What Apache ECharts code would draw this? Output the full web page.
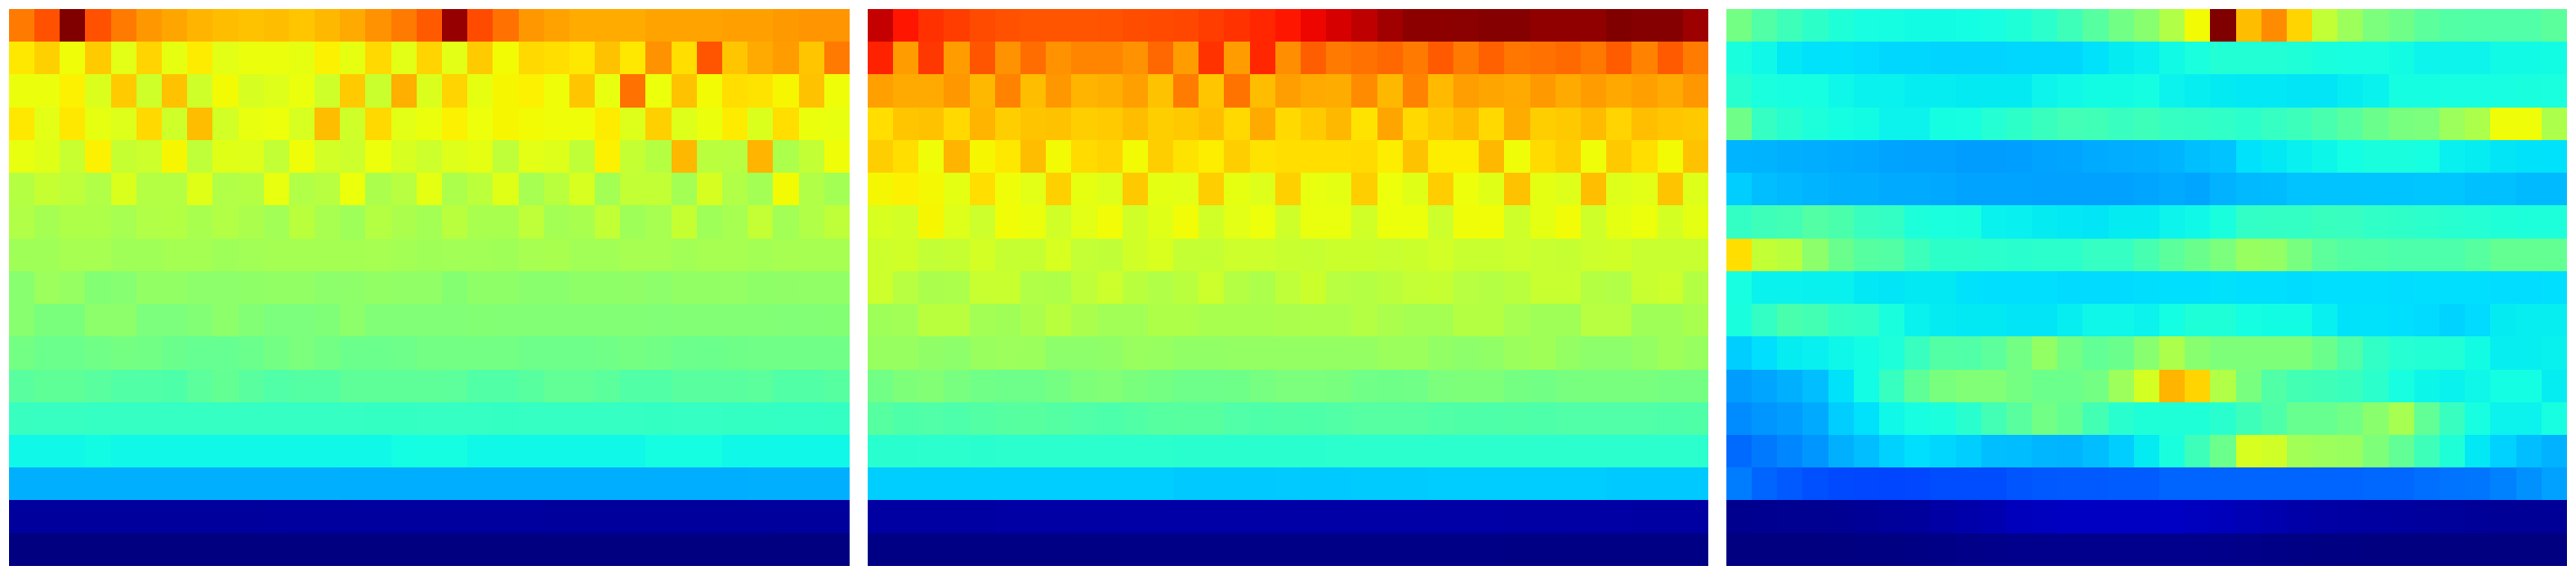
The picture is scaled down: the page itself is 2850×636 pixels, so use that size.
<!DOCTYPE html>
<html>
<head>
<meta charset="utf-8">
<style>html,body{margin:0;padding:0;background:#fff}#c{width:2850px;height:636px}</style>
<script src="https://cdn.jsdelivr.net/npm/echarts@6/dist/echarts.min.js"></script>
</head>
<body>
<div id="c"></div>
<script>
// Values are positions on the colour scale, 0..1000. One row per line, top row first.
const panelA = [
[780,825,1000,825,780,750,735,720,710,705,710,700,715,730,755,780,815,980,830,790,750,738,729,729,729,737,737,737,740,740,748,752,752],
[665,690,640,695,625,685,630,660,625,635,635,630,655,630,680,625,685,625,695,645,680,675,665,705,665,755,675,820,700,730,745,700,780],
[635,635,655,615,695,600,705,600,645,610,620,635,600,695,595,725,615,685,630,650,655,640,700,632,790,637,705,645,675,670,650,705,640],
[665,625,665,630,620,680,600,710,605,632,638,612,710,600,680,625,635,655,638,650,645,640,640,660,620,690,620,635,660,615,675,635,632],
[632,622,592,655,590,598,650,580,622,620,585,640,605,598,638,612,598,620,628,580,625,618,582,655,588,570,715,575,572,720,560,585,640],
[570,590,580,565,615,568,568,622,565,568,632,565,572,637,558,572,628,560,578,622,552,575,612,548,585,585,548,610,565,548,645,565,548],
[565,550,562,562,552,565,567,556,566,558,546,576,554,542,570,558,548,575,556,556,580,548,556,585,542,552,590,543,552,587,546,565,580],
[545,545,552,552,545,545,550,550,543,546,550,550,550,550,552,548,544,547,547,545,551,555,546,546,551,552,546,551,552,548,552,552,552],
[515,540,532,510,513,527,527,522,522,524,527,527,522,523,527,526,526,511,524,524,518,518,524,524,525,520,527,527,528,524,525,526,526],
[515,498,498,522,522,500,500,508,520,508,500,500,505,520,506,506,507,507,510,509,508,508,509,508,508,507,508,508,508,508,507,508,510],
[490,480,480,486,492,488,478,473,473,480,490,500,490,480,480,482,490,490,490,490,482,482,482,486,491,487,481,480,484,486,486,486,486],
[458,466,466,458,448,448,445,460,472,458,447,452,452,464,464,464,464,462,448,448,457,468,468,460,448,448,458,458,458,460,448,448,455],
[418,416,416,415,415,415,415,414,414,414,415,415,414,414,413,413,414,414,414,413,414,415,415,414,414,413,414,414,413,413,412,412,413],
[368,368,368,372,368,368,368,368,368,368,368,368,368,368,368,374,375,375,368,368,368,368,368,368,368,375,375,375,368,368,368,368,368],
[297,297,297,297,297,297,297,297,297,297,297,297,297,295,295,295,295,295,295,295,295,295,295,295,295,295,295,295,295,297,297,297,297],
[25,25,25,25,25,25,25,25,25,25,26,26,26,26,26,26,26,26,26,26,26,25,25,25,25,25,25,25,25,25,25,25,25],
[0,0,0,0,0,0,0,0,0,0,0,1,1,1,1,1,1,1,1,1,1,1,1,1,1,1,1,1,1,1,0,0,0]
];
const panelB = [
[940,888,858,845,830,825,820,820,820,822,828,832,835,845,857,870,886,905,925,946,972,988,989,990,995,995,985,985,985,1000,995,995,975],
[875,745,852,745,820,755,795,755,770,770,755,800,745,857,745,870,760,810,780,790,800,780,815,780,808,785,790,798,783,813,772,815,778],
[740,730,730,750,715,772,710,750,720,725,740,705,778,700,788,710,742,730,728,762,715,772,713,742,735,730,748,730,745,732,740,730,750],
[675,700,705,680,720,692,702,705,692,696,710,692,697,708,680,730,680,695,715,670,735,680,697,712,680,728,692,697,712,685,708,700,697],
[692,675,640,720,650,665,710,645,678,685,645,692,670,658,692,670,675,675,675,678,658,705,658,658,715,640,678,692,640,697,675,645,705],
[648,655,647,628,675,640,625,690,630,620,697,628,625,692,630,620,690,632,628,692,638,622,693,638,622,705,628,618,708,620,625,702,618],
[612,605,650,620,598,642,635,602,625,643,603,622,643,603,625,638,600,633,633,603,637,637,598,640,642,600,628,643,600,628,637,608,628],
[598,603,585,590,607,590,590,612,587,583,602,613,588,588,598,598,593,590,597,597,592,597,605,593,593,598,592,590,598,603,592,592,592],
[598,572,558,560,592,593,565,562,580,598,575,565,575,598,568,560,580,597,572,568,577,587,590,572,568,575,592,592,570,565,592,598,567],
[542,547,575,575,548,545,558,575,558,547,547,562,562,555,555,555,558,560,560,568,558,550,550,570,570,552,545,545,572,572,545,545,556],
[533,533,525,522,535,540,538,522,522,525,535,533,526,526,530,530,530,530,530,530,538,538,527,522,526,538,545,530,520,520,530,543,533],
[488,503,508,495,486,482,482,492,503,508,498,492,483,483,484,493,500,500,497,486,484,486,500,503,503,492,487,495,497,497,497,492,492],
[455,445,447,443,450,455,456,452,447,442,449,455,456,456,447,444,446,445,448,453,453,453,448,446,444,446,444,447,447,447,447,445,446],
[400,400,401,401,400,401,401,401,401,401,401,401,400,400,400,400,400,400,401,401,401,401,401,401,401,401,401,401,401,401,401,401,401],
[326,326,326,326,326,326,326,326,326,326,326,326,322,322,322,322,323,322,322,324,324,324,325,325,325,325,325,325,325,322,322,322,322],
[30,30,30,30,30,31,31,31,32,32,33,33,33,33,33,33,33,33,33,33,33,33,33,33,33,32,32,32,31,31,30,30,30],
[5,5,5,5,5,5,5,5,5,5,6,6,6,6,6,6,6,6,6,6,6,6,6,6,6,5,5,5,5,5,5,5,5]
];
const panelC = [
[490,448,425,405,388,378,375,372,372,374,378,388,402,425,455,488,515,565,645,1000,710,762,685,585,540,500,485,460,450,447,447,447,460],
[380,368,352,345,345,341,336,336,333,333,333,336,336,336,345,355,360,370,382,392,392,392,388,380,378,378,372,365,365,365,370,370,372],
[398,382,378,376,367,362,362,357,357,354,354,354,365,368,372,372,375,364,358,354,352,352,350,350,357,362,375,375,378,378,378,380,382],
[485,415,398,385,375,372,363,363,375,378,393,405,420,430,428,418,425,415,412,408,402,415,423,437,455,478,495,500,540,560,640,640,560],
[302,300,297,294,292,290,285,282,282,278,278,280,285,287,292,294,296,302,312,316,345,352,360,366,374,380,380,376,360,357,350,347,345],
[326,311,306,302,297,297,292,292,290,285,285,285,282,282,282,282,287,292,287,299,306,308,316,316,316,318,318,319,319,313,313,307,307],
[412,425,430,450,440,418,412,385,382,380,362,360,355,352,350,355,355,365,368,380,410,412,412,420,418,408,406,402,398,393,388,385,385],
[675,585,575,522,478,455,450,423,405,405,402,400,402,403,415,415,435,460,478,500,533,528,495,462,450,448,443,443,443,455,472,472,472],
[378,362,362,361,361,352,350,353,353,345,343,343,343,339,339,339,342,343,343,345,343,343,340,343,343,343,341,343,343,343,341,341,343],
[380,412,438,432,412,408,380,362,355,353,353,350,350,358,367,367,363,374,387,387,375,372,372,360,347,345,343,339,332,339,355,358,358],
[326,343,357,360,367,373,385,418,450,447,462,490,527,490,468,478,515,560,515,502,502,502,502,478,447,410,396,392,390,372,358,358,361],
[278,287,297,311,346,373,417,465,497,506,506,492,480,480,490,540,608,720,685,565,495,448,432,426,420,402,378,366,362,367,374,374,357],
[262,272,277,292,326,345,368,378,383,400,430,458,487,472,432,400,388,388,388,400,425,445,475,475,487,517,552,468,418,378,364,364,378],
[228,243,257,272,297,311,331,343,336,326,311,310,304,302,311,326,355,380,425,480,612,602,547,540,535,503,468,425,388,352,331,311,299],
[247,223,213,203,196,194,192,194,200,200,200,208,211,213,213,215,215,223,223,223,223,223,223,223,223,226,226,233,238,240,252,267,282],
[13,14,15,15,16,20,24,25,32,38,42,52,55,58,58,58,58,60,55,50,45,40,35,32,30,28,26,25,24,22,20,20,20],
[0,0,0,0,0,2,3,4,6,8,10,12,12,12,12,12,12,12,12,10,8,6,5,3,2,1,0,0,0,0,0,0,0]
];
const colLabels = panelA[0].map((_, i) => String(i));
const rowLabels = panelA.map((_, i) => String(i));

// matplotlib-style jet colour scale
function seg(t, pts) {
  for (let i = 1; i < pts.length; i++) {
    if (t <= pts[i][0]) {
      const a = pts[i - 1], b = pts[i];
      return a[1] + (b[1] - a[1]) * (t - a[0]) / (b[0] - a[0]);
    }
  }
  return pts[pts.length - 1][1];
}
const jet = [];
for (let i = 0; i <= 255; i++) {
  const t = i / 255;
  const r = seg(t, [[0,0],[0.35,0],[0.66,1],[0.89,1],[1,0.5]]);
  const g = seg(t, [[0,0],[0.125,0],[0.375,1],[0.64,1],[0.91,0],[1,0]]);
  const b = seg(t, [[0,0.5],[0.11,1],[0.34,1],[0.65,0],[1,0]]);
  jet.push('rgb(' + Math.round(r * 255) + ',' + Math.round(g * 255) + ',' + Math.round(b * 255) + ')');
}

// Cells take their place from the axes; edges land on whole pixels so no seams show.
function renderCell(params, api) {
  const p = api.coord([api.value(0), api.value(1)]);
  const s = api.size([1, 1]);
  const x0 = Math.round(p[0] - s[0] / 2 - 0.08);
  const x1 = Math.round(p[0] + s[0] / 2 - 0.08);
  const y0 = Math.round(p[1] - s[1] / 2 - 0.08);
  const y1 = Math.round(p[1] + s[1] / 2 - 0.08);
  return {
    type: 'rect',
    shape: { x: x0, y: y0, width: x1 - x0, height: y1 - y0 },
    style: { fill: api.visual('color'), stroke: null, lineWidth: 0 }
  };
}

const panels = [panelA, panelB, panelC];
const lefts = [10, 960, 1910];
const option = {
  animation: false,
  backgroundColor: '#ffffff',
  grid: lefts.map(l => ({ left: l, top: 10, width: 930, height: 616, show: false })),
  xAxis: panels.map((_, i) => ({ type: 'category', gridIndex: i, data: colLabels, show: false })),
  yAxis: panels.map((_, i) => ({ type: 'category', gridIndex: i, data: rowLabels, inverse: true, show: false })),
  visualMap: { show: false, type: 'continuous', min: 0, max: 1000, dimension: 2, seriesIndex: [0, 1, 2], inRange: { color: jet } },
  series: panels.map((rows, i) => ({
    type: 'custom',
    xAxisIndex: i,
    yAxisIndex: i,
    progressive: 0,
    silent: true,
    clip: false,
    encode: { x: 0, y: 1 },
    renderItem: renderCell,
    data: rows.flatMap((row, y) => row.map((v, x) => [x, y, v]))
  }))
};
echarts.init(document.getElementById('c'), null, { renderer: 'canvas' }).setOption(option);
</script>
</body>
</html>
